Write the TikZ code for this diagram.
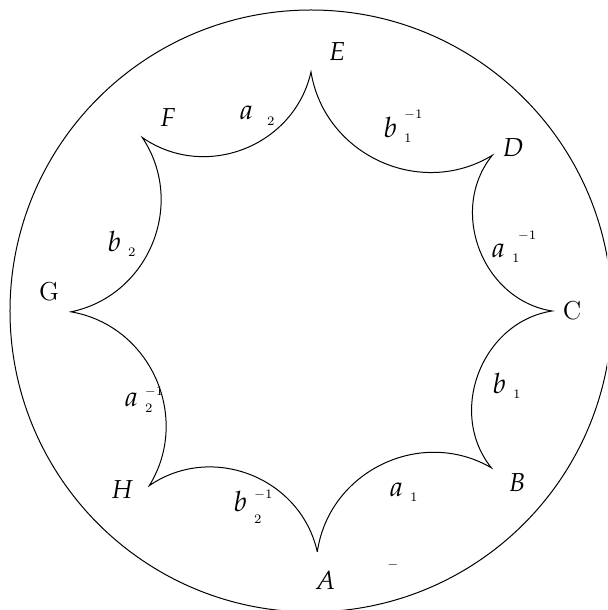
\documentclass[tikz,border=0pt]{standalone}
\usepackage{mathpazo}

\newcommand{\tinyscript}{\fontsize{6.5}{7}\selectfont}
% letter, subscript, superscript and how far the superscript goes up
\newcommand{\edgelbl}[5][2.5pt]{$#2$\hspace{3.5pt}\rlap{\raisebox{-#1}{\tinyscript #3}}\raisebox{#5}{\tinyscript #4}}

\begin{document}
\begin{tikzpicture}[x=50pt, y=50pt, line width=0.5pt]
    \tikzset{
        vlabel/.style={font=\fontsize{13}{15}\selectfont},
        elabel/.style={anchor=base west, inner sep=0pt, font=\fontsize{14}{16}\selectfont},
        side/.style={bend left=#1, looseness=1.08},
        side/.default=56
    }
    \clip (-3.11,-2.99) rectangle (2.96,3.11);

    % boundary of the disc
    \draw (0,0) circle (3.01);

    % corners of the octagon
    \coordinate (a) at (271.5:2.41);
    \coordinate (b) at (319.0:2.39);
    \coordinate (c) at (0:2.41);
    \coordinate (d) at (40.65:2.39);
    \coordinate (e) at (90:2.39);
    \coordinate (f) at (134.2:2.42);
    \coordinate (g) at (180.2:2.40);
    \coordinate (h) at (227.2:2.38);

    \draw (a) to[side] (b) to[side=60] (c) to[side=60] (d) to[side] (e)
        to[side] (f) to[side] (g) to[side] (h) to[side] (a);

    \node[vlabel] (la) at (0.14,-2.69) {$A$};
    \node[vlabel] (lb) at (2.06,-1.72) {$B$};
    \node[vlabel] (lc) at (2.61,0) {C};
    \node[vlabel] (ld) at (2.02,1.63) {$D$};
    \node[vlabel] (le) at (0.26,2.59) {$E$};
    \node[vlabel] (lf) at (-1.43,1.93) {$F$};
    \node[vlabel] (lg) at (-2.62,0.19) {G};
    \node[vlabel] (lh) at (-1.89,-1.79) {$H$};

    % the sides
    \node[elabel] (s1) at (0.78,-1.85) {\edgelbl{a}{1}{}{0pt}};
    \node[elabel] (s2) at (1.81,-0.82) {\edgelbl{b}{1}{}{0pt}};
    \node[elabel] (s3) at (1.80,0.53) {\edgelbl{a}{1}{\hspace{3pt}$-$1}{9pt}};
    \node[elabel] (s4) at (0.72,1.73) {\edgelbl{b}{1}{$-$1}{9.5pt}};
    \node[elabel] (s5) at (-0.72,1.91) {\edgelbl[3pt]{a}{\hspace{3.5pt}2}{}{0pt}};
    \node[elabel] (s6) at (-2.04,0.59) {\edgelbl{b}{2}{}{0pt}};
    \node[elabel] (s7) at (-1.87,-0.955) {\edgelbl[3pt]{a}{2}{$-$1}{5.75pt}};
    \node[elabel] (s8) at (-0.78,-2.0) {\edgelbl[6pt]{b}{2}{$-$1}{6.5pt}};

    \node[inner sep=0pt] (dash) at (0.82,-2.54) {\tinyscript $-$};
\end{tikzpicture}
\end{document}
